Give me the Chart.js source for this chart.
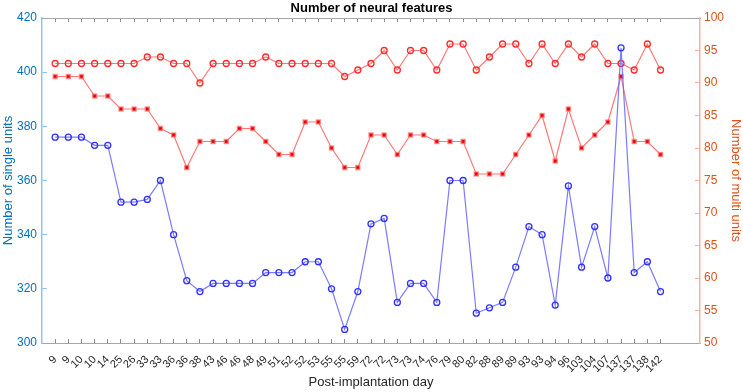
<!DOCTYPE html>
<html>
<head>
<meta charset="utf-8">
<script src="https://cdn.jsdelivr.net/npm/chart.js@4.4.1/dist/chart.umd.min.js"></script>
<style>
  html, body { margin: 0; padding: 0; background: #fff; }
  canvas { display: block; }
</style>
</head>
<body>
<canvas id="c" width="743" height="392"></canvas>
<script>
// ---- data ----
const days = ["9","9","10","10","14","25","26","33","33","36","36","38","43","46","46","48","49","51","52","52","53","55","55","59","72","72","73","73","74","76","79","80","82","88","89","89","93","93","94","96","103","104","107","137","137","138","142"];
const singleUnits = [376,376,376,373,373,352,352,353,360,340,323,319,322,322,322,322,326,326,326,330,330,320,305,319,344,346,315,322,322,315,360,360,311,313,315,328,343,340,314,358,328,343,324,409,326,330,319];
const multiUnitsA = [93,93,93,93,93,93,93,94,94,93,93,90,93,93,93,93,94,93,93,93,93,93,91,92,93,95,92,95,95,92,96,96,92,94,96,96,93,96,93,96,94,96,93,93,92,96,92];
const multiUnitsB = [91,91,91,88,88,86,86,86,83,82,77,81,81,81,83,83,81,79,79,84,84,80,77,77,82,82,79,82,82,81,81,81,76,76,76,79,82,85,78,86,80,82,84,91,81,81,79];
const leftTicks = { min: 300, max: 420, step: 20 };
const rightTicks = { min: 50, max: 100, step: 5 };

const toXY = arr => arr.map((v, i) => ({ x: i + 1, y: v }));
const tickList = () => days.map((_, i) => ({ value: i + 1 }));

Chart.defaults.font.family = "'Liberation Sans', Arial, Helvetica, sans-serif";
Chart.defaults.color = '#262626';

const blueTxt = '#0072BD', blueAxis = '#94c3e6';
const redTxt = '#D95319', redAxis = '#f2b39a';
const grayAxis = '#a6a6a6', grayTick = '#8a8a8a';

new Chart(document.getElementById('c'), {
  type: 'line',
  data: {
    datasets: [
      {
        label: 'Single units',
        data: toXY(singleUnits),
        yAxisID: 'y', xAxisID: 'x',
        borderColor: 'rgba(100,100,255,0.85)',
        borderWidth: 1.2,
        pointStyle: 'circle', pointRadius: 3,
        pointBorderColor: '#2f2fff', pointBackgroundColor: 'rgba(255,255,255,0)',
        pointBorderWidth: 1.3,
        tension: 0
      },
      {
        label: 'Multi units A',
        data: toXY(multiUnitsA),
        yAxisID: 'y1', xAxisID: 'x',
        borderColor: 'rgba(255,95,95,0.85)',
        borderWidth: 1.2,
        pointStyle: 'circle', pointRadius: 3,
        pointBorderColor: '#ff2a2a', pointBackgroundColor: 'rgba(255,255,255,0)',
        pointBorderWidth: 1.3,
        tension: 0
      },
      {
        label: 'Multi units B',
        data: toXY(multiUnitsB),
        yAxisID: 'y1', xAxisID: 'x',
        borderColor: 'rgba(255,95,95,0.85)',
        borderWidth: 1.2,
        pointStyle: 'rect', pointRadius: 2.8,
        pointBorderColor: 'rgba(255,120,120,0.75)', pointBackgroundColor: '#e80000',
        pointBorderWidth: 1.5,
        tension: 0
      }
    ]
  },
  options: {
    responsive: false,
    devicePixelRatio: 1,
    animation: false,
    events: [],
    layout: { padding: 0 },
    plugins: {
      legend: { display: false },
      tooltip: { enabled: false },
      title: {
        display: true,
        text: 'Number of neural features',
        color: '#000',
        font: { size: 13, weight: 'bold' },
        padding: { top: 1, bottom: 1.4 }
      }
    },
    scales: {
      x: {
        type: 'linear', position: 'bottom',
        min: 0, max: 50,
        afterBuildTicks: s => { s.ticks = tickList(); },
        afterFit: s => { s.height = 49; },
        ticks: {
          autoSkip: false, maxRotation: 45, minRotation: 45,
          font: { size: 11 }, color: '#262626', padding: 14,
          callback: v => days[v - 1] ?? ''
        },
        grid: { drawOnChartArea: false, drawTicks: true, tickLength: -4, color: grayTick, lineWidth: 1 },
        border: { display: true, color: grayAxis, width: 1 },
        title: {
          display: true, text: 'Post-implantation day',
          font: { size: 13 }, color: '#262626',
          padding: { top: 0, bottom: 2 }
        }
      },
      x2: {
        type: 'linear', position: 'top',
        min: 0, max: 50,
        afterBuildTicks: s => { s.ticks = tickList(); },
        afterFit: s => { s.height = 0; },
        ticks: { display: false },
        grid: { drawOnChartArea: false, drawTicks: true, tickLength: -4, color: grayTick, lineWidth: 1 },
        border: { display: true, color: grayAxis, width: 1 }
      },
      y: {
        type: 'linear', position: 'left',
        min: leftTicks.min, max: leftTicks.max,
        afterFit: s => { s.width = 42; },
        ticks: { stepSize: leftTicks.step, color: blueTxt, font: { size: 12 }, padding: 10 },
        grid: { drawOnChartArea: false, drawTicks: true, tickLength: -5, color: blueAxis, lineWidth: 1 },
        border: { display: true, color: blueAxis, width: 1.5 },
        title: {
          display: true, text: 'Number of single units',
          color: blueTxt, font: { size: 13 },
          padding: { top: 1, bottom: 0 }
        }
      },
      y1: {
        type: 'linear', position: 'right',
        min: rightTicks.min, max: rightTicks.max,
        afterFit: s => { s.width = 43; },
        ticks: { stepSize: rightTicks.step, color: redTxt, font: { size: 12 }, padding: 9 },
        grid: { drawOnChartArea: false, drawTicks: true, tickLength: -5, color: redAxis, lineWidth: 1 },
        border: { display: true, color: redAxis, width: 1.5 },
        title: {
          display: true, text: 'Number of multi units',
          color: redTxt, font: { size: 13 },
          padding: { top: 0, bottom: 0 }
        }
      }
    }
  }
});
</script>
</body>
</html>
